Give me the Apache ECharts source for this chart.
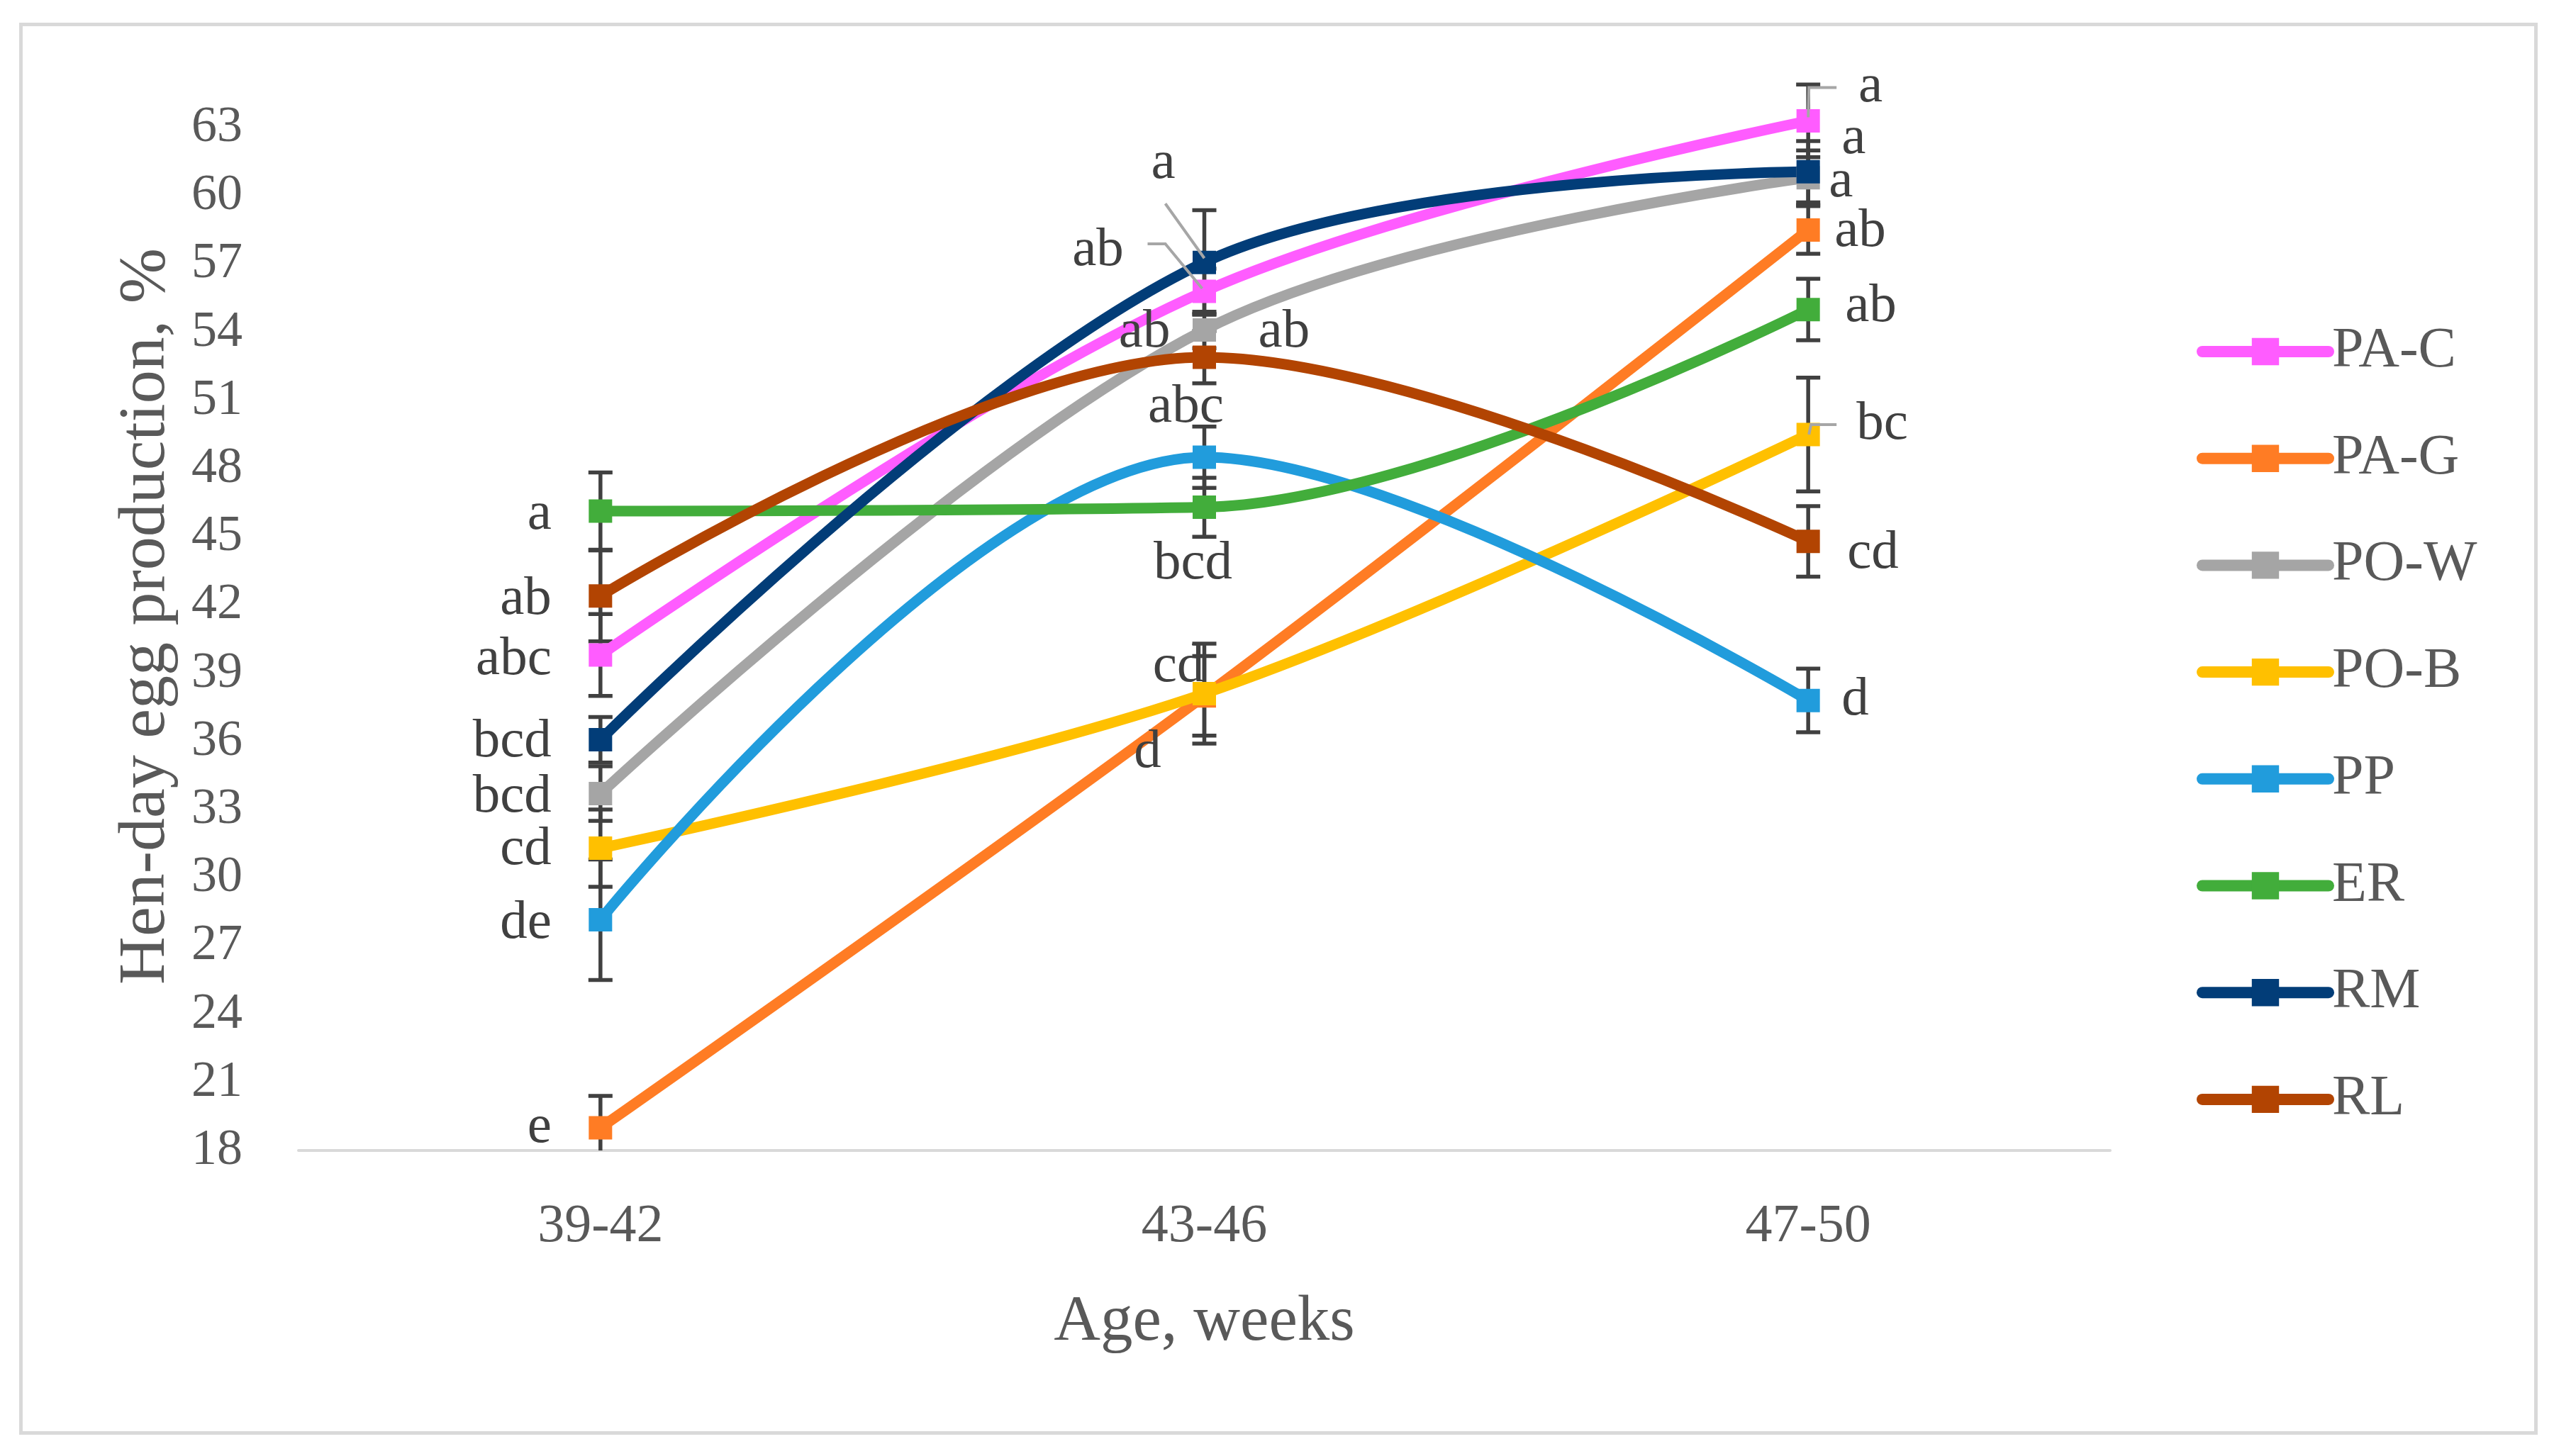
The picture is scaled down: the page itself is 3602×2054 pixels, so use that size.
<!DOCTYPE html>
<html><head><meta charset="utf-8">
<script src="https://cdn.jsdelivr.net/npm/echarts@6/dist/echarts.min.js"></script>
<style>html,body{margin:0;padding:0;background:#fff}#c{width:3602px;height:2054px}</style>
</head><body><div id="c"></div>
<script>
// ---------- data ----------
const categories = ['39-42', '43-46', '47-50'];
const seriesNames = ['PA-C', 'PA-G', 'PO-W', 'PO-B', 'PP', 'ER', 'RM', 'RL'];

const valPAC = [39.8, 55.8, 63.3];
const valPAG = [19.0, 38.0, 58.5];
const valPOW = [33.7, 54.1, 60.8];
const valPOB = [31.3, 38.1, 49.5];
const valPP  = [28.15, 48.5, 37.8];
const valER  = [46.13, 46.3, 55.0];
const valRM  = [36.07, 57.07, 61.06];
const valRL  = [42.4, 52.9, 44.8];

const errPAC = [1.8, 1.0, 1.6];
const errPAG = [1.4, 1.75, 1.05];
const errPOW = [1.2, 0.8, 1.2];
const errPOB = [1.7, 2.2, 2.5];
const errPP  = [2.65, 1.35, 1.4];
const errER  = [1.7, 1.3, 1.35];
const errRM  = [1.0, 2.3, 1.35];
const errRL  = [2.0, 1.15, 1.55];

const letPAC = ['abc', 'ab', 'a'];
const letPAG = ['e', 'd', 'ab'];
const letPOW = ['bcd', 'ab', 'a'];
const letPOB = ['cd', 'cd', 'bc'];
const letPP  = ['de', 'abc', 'd'];
const letER  = ['a', 'bcd', 'ab'];
const letRM  = ['bcd', 'a', 'a'];
const letRL  = ['ab', 'ab', 'cd'];

const allValues  = [valPAC, valPAG, valPOW, valPOB, valPP, valER, valRM, valRL];
const allErrors  = [errPAC, errPAG, errPOW, errPOB, errPP, errER, errRM, errRL];
const allLetters = [letPAC, letPAG, letPOW, letPOB, letPP, letER, letRM, letRL];

// ---------- styles ----------
const colors = ['#ff5cff', '#ff7c24', '#a5a5a5', '#ffc000', '#219cdc', '#42ad3b', '#023d78', '#b24402'];
const FONT = '"Liberation Serif", "DejaVu Serif", serif';
const TXT = '#595959';
const LBL = '#404040';

// label placement per series / point: [align, dx, dy] (pixels from the marker centre)
const labelPlacement = [
  [['right', -69, 7], ['center', -150, -57], ['center', 88, -48]],
  [['right', -69, 0], ['center', -80, 80], ['left', 37, 2]],
  [['right', -69, 5], ['right', -48, 3], ['left', 29, 6]],
  [['right', -69, 2], ['right', 0, -38], ['left', 68, -14]],
  [['right', -69, 5], ['center', -26, -70], ['left', 47, 0]],
  [['right', -69, 5], ['center', -16, 80], ['left', 52, -4]],
  [['right', -69, 3], ['center', -58, -139], ['left', 47, -47]],
  [['right', -69, 5], ['left', 76, -35], ['left', 55, 17]]
];

// leader lines: [seriesIndex, categoryIndex, pixel offsets from marker]
const leaders = [
  [0, 1, [[-80, -67], [-55, -67], [-3, -4]]],
  [6, 1, [[-55, -83], [0, -6]]],
  [0, 2, [[40, -47], [1, -47], [0, -5]]],
  [3, 2, [[40, -14], [4, -14], [1, 0]]]
];

const series = [];

// error bars
allValues.forEach((vals, si) => {
  series.push({
    type: 'custom',
    name: 'err-' + seriesNames[si],
    z: 1,
    clip: true,
    encode: { x: 0, y: 1 },
    data: vals.map((v, i) => [i, v, allErrors[si][i]]),
    renderItem: function (params, api) {
      const x = api.value(0), v = api.value(1), e = api.value(2);
      const t = api.coord([x, v + e]);
      const b = api.coord([x, v - e]);
      const hw = 17;
      const st = { stroke: '#404040', lineWidth: 5.5 };
      return {
        type: 'group',
        children: [
          { type: 'line', shape: { x1: t[0], y1: t[1], x2: b[0], y2: b[1] }, style: st },
          { type: 'line', shape: { x1: t[0] - hw, y1: t[1], x2: t[0] + hw, y2: t[1] }, style: st },
          { type: 'line', shape: { x1: b[0] - hw, y1: b[1], x2: b[0] + hw, y2: b[1] }, style: st }
        ]
      };
    }
  });
});

// lines
allValues.forEach((vals, si) => {
  series.push({
    type: 'line',
    name: seriesNames[si],
    z: 3,
    smooth: 0.35,
    symbol: 'rect',
    symbolSize: 33,
    color: colors[si],
    lineStyle: { width: 15, color: colors[si] },
    itemStyle: { color: colors[si] },
    emphasis: { disabled: true },
    data: vals.map((v, i) => {
      const p = labelPlacement[si][i];
      return {
        value: v,
        label: {
          show: true,
          formatter: allLetters[si][i],
          position: 'inside',
          align: p[0],
          verticalAlign: 'middle',
          offset: [p[1], p[2]],
          fontFamily: FONT,
          fontSize: 77,
          color: LBL
        }
      };
    })
  });
});

// leader lines
series.push({
  type: 'custom',
  name: 'leaders',
  z: 4,
  encode: { x: 0, y: 1 },
  data: leaders.map((l, k) => [l[1], allValues[l[0]][l[1]], k]),
  renderItem: function (params, api) {
    const pt = api.coord([api.value(0), api.value(1)]);
    const offs = leaders[api.value(2)][2];
    return {
      type: 'polyline',
      shape: { points: offs.map(o => [pt[0] + o[0], pt[1] + o[1]]) },
      style: { stroke: '#a6a6a6', lineWidth: 4, fill: null }
    };
  }
});

const chart = echarts.init(document.getElementById('c'), null, { renderer: 'canvas' });
chart.setOption({
  backgroundColor: '#ffffff',
  animation: false,
  graphic: [{
    type: 'rect', left: 27, top: 32,
    shape: { width: 3547, height: 1987 },
    style: { fill: null, stroke: '#d9d9d9', lineWidth: 5 }
  }],
  grid: { left: 421, right: 626, top: 116, bottom: 431 },
  xAxis: {
    type: 'category',
    data: categories,
    boundaryGap: true,
    axisLine: { lineStyle: { color: '#d9d9d9', width: 4 } },
    axisTick: { show: false },
    axisLabel: { fontFamily: FONT, fontSize: 76, color: TXT, margin: 70 },
    name: 'Age, weeks',
    nameLocation: 'middle',
    nameGap: 198,
    nameTextStyle: { fontFamily: FONT, fontSize: 91, color: TXT }
  },
  yAxis: {
    type: 'value',
    min: 18, max: 65, interval: 3,
    axisLine: { show: false },
    axisTick: { show: false },
    splitLine: { show: false },
    axisLabel: { showMaxLabel: false, fontFamily: FONT, fontSize: 72, color: TXT, margin: 79 },
    name: 'Hen-day egg production, %',
    nameLocation: 'middle',
    nameGap: 168,
    nameTextStyle: { fontFamily: FONT, fontSize: 94, color: TXT }
  },
  legend: {
    orient: 'vertical',
    left: 3098, top: 456,
    padding: 0,
    itemWidth: 178, itemHeight: 48, itemGap: 70.7,
    data: seriesNames,
    textStyle: { fontFamily: FONT, fontSize: 80, color: TXT, lineHeight: 80 },
    lineStyle: { width: 16, cap: 'round' }
  },
  series: series
});
</script></body></html>
